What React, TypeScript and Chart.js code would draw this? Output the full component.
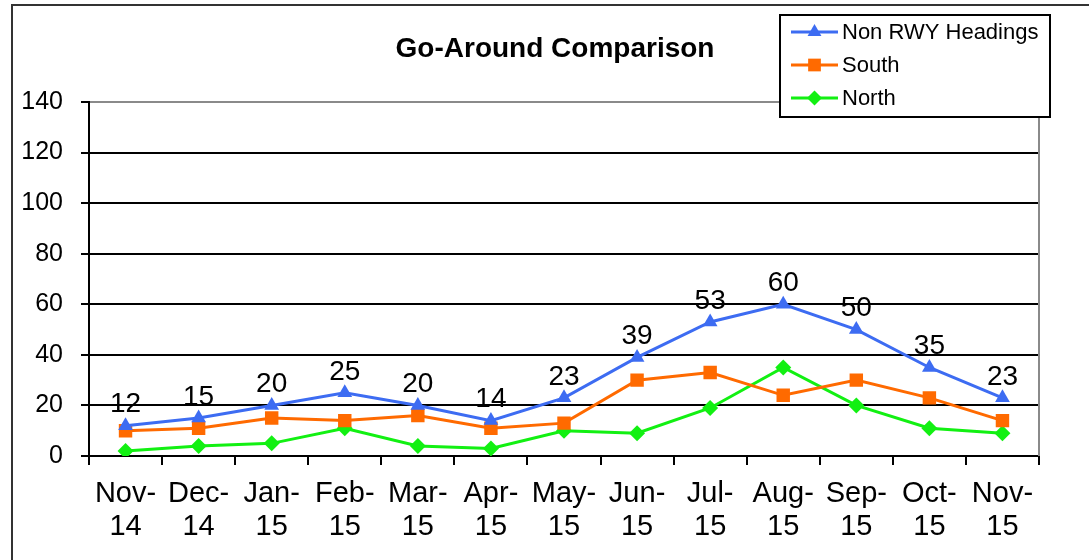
import React, { useEffect, useRef } from 'react';
import { Chart, registerables } from 'chart.js';
import { drawPoint } from 'chart.js/helpers';

Chart.register(...registerables);

const categories: string[][] = [
  ['Nov-', '14'], ['Dec-', '14'], ['Jan-', '15'], ['Feb-', '15'], ['Mar-', '15'],
  ['Apr-', '15'], ['May-', '15'], ['Jun-', '15'], ['Jul-', '15'], ['Aug-', '15'],
  ['Sep-', '15'], ['Oct-', '15'], ['Nov-', '15'],
];
const nonRwyHeadings = [12, 15, 20, 25, 20, 14, 23, 39, 53, 60, 50, 35, 23];
const south = [10, 11, 15, 14, 16, 11, 13, 30, 33, 24, 30, 23, 14];
const north = [2, 4, 5, 11, 4, 3, 10, 9, 19, 35, 20, 11, 9];
const yMin = 0;
const yMax = 140;
const yStep = 20;

const FONT = "'Liberation Sans', Arial, Helvetica, sans-serif";
const BLUE = '#3D6CF2';
const ORANGE = '#FF6A00';
const GREEN = '#12F012';

const seriesDefs = [
  { label: 'Non RWY Headings', data: nonRwyHeadings, color: BLUE, style: 'triangle', radius: 8.5 },
  { label: 'South', data: south, color: ORANGE, style: 'rect', radius: 9.5 },
  { label: 'North', data: north, color: GREEN, style: 'rectRot', radius: 8 },
];

const decor = {
  id: 'decor',
  beforeDraw(chart: any) {
    const ctx = chart.ctx;
    ctx.save();
    ctx.fillStyle = '#fff';
    ctx.fillRect(0, 0, chart.width, chart.height);
    ctx.strokeStyle = '#333';
    ctx.lineWidth = 2;
    ctx.beginPath();
    ctx.moveTo(12, chart.height);
    ctx.lineTo(12, 5);
    ctx.lineTo(chart.width, 5);
    ctx.stroke();
    ctx.restore();
  },
  beforeDatasetsDraw(chart: any) {
    const ctx = chart.ctx;
    const a = chart.chartArea;
    ctx.save();
    ctx.strokeStyle = '#8a8a8a';
    ctx.lineWidth = 2;
    ctx.beginPath();
    ctx.moveTo(a.right, a.top);
    ctx.lineTo(a.right, a.bottom);
    ctx.stroke();
    ctx.restore();
  },
  afterDatasetsDraw(chart: any) {
    const ctx = chart.ctx;
    const meta = chart.getDatasetMeta(0);
    ctx.save();
    ctx.fillStyle = '#000';
    ctx.font = `28px ${FONT}`;
    ctx.textAlign = 'center';
    ctx.textBaseline = 'bottom';
    meta.data.forEach((pt: any, i: number) => {
      ctx.fillText(String(nonRwyHeadings[i]), pt.x, pt.y - 7);
    });
    ctx.restore();
  },
  afterDraw(chart: any) {
    const ctx = chart.ctx;
    ctx.save();
    ctx.fillStyle = '#000';
    ctx.font = `bold 28px ${FONT}`;
    ctx.textAlign = 'center';
    ctx.textBaseline = 'alphabetic';
    ctx.fillText('Go-Around Comparison', 555, 57);
    ctx.fillStyle = '#fff';
    ctx.fillRect(780, 15, 270, 102);
    ctx.strokeStyle = '#000';
    ctx.lineWidth = 2;
    ctx.strokeRect(780, 15, 270, 102);
    seriesDefs.forEach((s, i) => {
      const y = 32 + i * 33;
      ctx.strokeStyle = s.color;
      ctx.lineWidth = 3;
      ctx.beginPath();
      ctx.moveTo(791, y);
      ctx.lineTo(838, y);
      ctx.stroke();
      ctx.fillStyle = s.color;
      drawPoint(ctx, { pointStyle: s.style, radius: s.radius - 0.5, rotation: 0, borderWidth: 0 } as any, 814.5, y);
      ctx.fillStyle = '#000';
      ctx.font = `22px ${FONT}`;
      ctx.textAlign = 'left';
      ctx.textBaseline = 'middle';
      ctx.fillText(s.label, 842, y + 1);
    });
    ctx.restore();
  },
};

export default function App() {
  const ref = useRef<HTMLCanvasElement>(null);
  useEffect(() => {
    if (!ref.current) return;
    const chart = new Chart(ref.current, {
      type: 'line',
      data: {
        labels: categories,
        datasets: seriesDefs.map((s) => ({
          label: s.label,
          data: s.data,
          borderColor: s.color,
          backgroundColor: s.color,
          borderWidth: 3,
          pointStyle: s.style as any,
          pointRadius: s.radius,
          pointBorderWidth: 0,
          pointBackgroundColor: s.color,
          tension: 0,
        })),
      },
      options: {
        responsive: false,
        animation: false,
        devicePixelRatio: 1,
        layout: { padding: { top: 102, right: 50, left: 0, bottom: 0 } },
        plugins: { legend: { display: false }, title: { display: false }, tooltip: { enabled: false } },
        scales: {
          x: {
            type: 'category',
            offset: true,
            afterFit: (scale: any) => { scale.height = 104; },
            border: { display: true, color: '#000', width: 2 },
            grid: {
              display: true,
              offset: true,
              drawOnChartArea: false,
              drawTicks: true,
              tickLength: 9,
              color: '#000',
              lineWidth: 2,
            },
            ticks: {
              color: '#000',
              font: { family: FONT, size: 29, lineHeight: 1.14 },
              padding: 12,
              maxRotation: 0,
              autoSkip: false,
            },
          },
          y: {
            min: yMin,
            max: yMax,
            afterFit: (scale: any) => { scale.width = 89; },
            border: { display: true, color: '#000', width: 2 },
            grid: {
              color: (c: any) => (c.tick && c.tick.value === yMax ? '#8a8a8a' : '#000'),
              lineWidth: 2,
              tickLength: 8,
              tickColor: '#000',
            },
            ticks: {
              stepSize: yStep,
              color: '#000',
              font: { family: FONT, size: 25 },
              padding: 18,
            },
          },
        },
      },
      plugins: [decor],
    });
    return () => chart.destroy();
  }, []);
  return (
    <div style={{ position: 'fixed', left: 0, top: 0, width: 1089, height: 560, background: '#fff' }}>
      <canvas ref={ref} width={1089} height={560} style={{ display: 'block' }} />
    </div>
  );
}
